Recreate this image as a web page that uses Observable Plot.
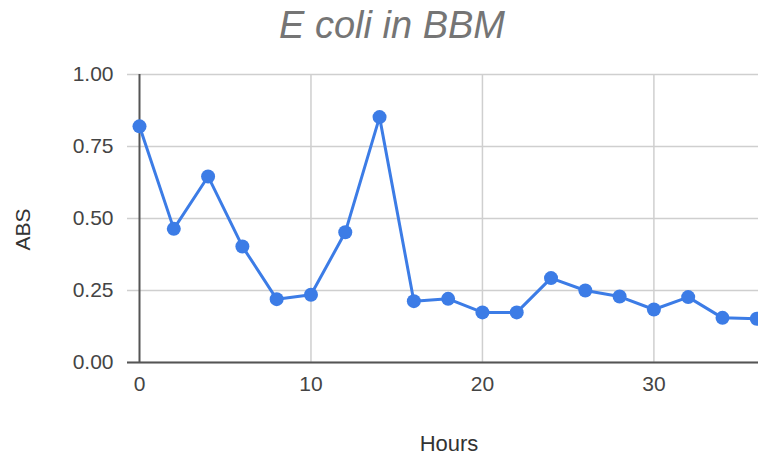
<!DOCTYPE html>
<html>
<head>
<meta charset="utf-8">
<script src="https://cdn.jsdelivr.net/npm/d3@7"></script>
<script src="https://cdn.jsdelivr.net/npm/@observablehq/plot@0.6"></script>
<style>
  html, body { margin: 0; padding: 0; background: #fff; overflow: hidden; }
  #chart svg { display: block; }
</style>
</head>
<body>
<div id="chart"></div>
<script>
// Absorbance of E. coli grown in BBM, sampled every two hours
const hours = [0, 2, 4, 6, 8, 10, 12, 14, 16, 18, 20, 22, 24, 26, 28, 30, 32, 34, 36];
const abs   = [0.82, 0.464, 0.646, 0.403, 0.22, 0.235, 0.452, 0.852, 0.213, 0.221,
               0.174, 0.174, 0.293, 0.25, 0.229, 0.184, 0.227, 0.155, 0.152];
const yTicks = [0, 0.25, 0.5, 0.75, 1];
const xTicks = [0, 10, 20, 30];
const xGrid = [10, 20, 30];
const titleText = "E coli in BBM";
const xLabel = "Hours";
const yLabel = "ABS";

const data = hours.map((h, i) => ({hours: h, abs: abs[i]}));

const blue = "#3c7ce6";
const grid = "#cfcfcf";
const axisDark = "#555";

const chart = Plot.plot({
  width: 758,
  height: 458,
  marginTop: 74,
  marginBottom: 96,
  marginLeft: 139,
  marginRight: 0,
  style: {fontFamily: "'Liberation Sans', Arial, sans-serif", background: "#fff", overflow: "visible"},
  x: {domain: [0, 36.1]},
  y: {domain: [0, 1]},
  marks: [
    Plot.gridX(xGrid, {stroke: grid, strokeOpacity: 1, strokeWidth: 1.5}),
    Plot.gridY(yTicks, {stroke: grid, strokeOpacity: 1, strokeWidth: 1.5}),
    Plot.axisY(yTicks, {
      tickSize: 12, tickPadding: 14, stroke: grid, strokeWidth: 1.5,
      fill: "#444", fontSize: 21, tickFormat: d3.format(".2f"), label: null
    }),
    Plot.axisY([0], {tickSize: 12, stroke: axisDark, strokeWidth: 2, tickFormat: () => "", label: null}),
    Plot.axisX(xTicks, {tickSize: 0, tickPadding: 14, fill: "#444", fontSize: 21, label: null}),
    Plot.ruleX([0], {stroke: axisDark, strokeWidth: 2}),
    Plot.ruleY([0], {stroke: axisDark, strokeWidth: 2}),
    Plot.line(data, {x: "hours", y: "abs", stroke: blue, strokeWidth: 3}),
    Plot.dot(data, {x: "hours", y: "abs", r: 7, fill: blue, stroke: "none"}),
    // axis titles
    Plot.text([yLabel], {
      frameAnchor: "left", dx: -110, dy: 32, rotate: -90, lineAnchor: "bottom",
      fontSize: 21, fill: "#333"
    }),
    Plot.text([xLabel], {
      frameAnchor: "bottom", dy: 88, lineAnchor: "bottom",
      fontSize: 22, fill: "#333"
    }),
    Plot.text([titleText], {
      frameAnchor: "top", dx: -57, dy: -37, lineAnchor: "bottom",
      fontSize: 38, fontStyle: "italic", fill: "#757575"
    })
  ]
});

document.getElementById("chart").appendChild(chart);
</script>
</body>
</html>
